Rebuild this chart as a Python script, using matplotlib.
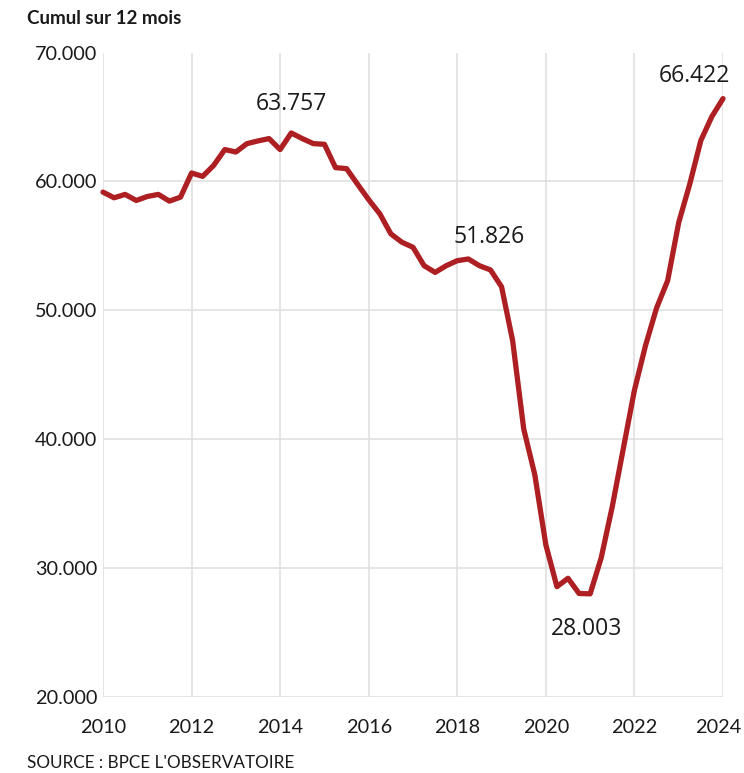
import matplotlib
matplotlib.use("Agg")
import matplotlib.pyplot as plt
import matplotlib.transforms as mtransforms
from matplotlib.ticker import FuncFormatter, FixedLocator

# Quarterly 12-month rolling totals, 2010 Q1 -> 2024
start_year = 2010
values = [
    59170, 58730, 58990, 58520, 58830, 58990, 58470, 58780,
    60650, 60390, 61245, 62470, 62280, 62930, 63140, 63320,
    62470, 63757, 63320, 62930, 62880, 61070, 60990, 59770,
    58580, 57490, 55930, 55280, 54890, 53460, 52940, 53460,
    53850, 53980, 53460, 53130, 51826, 47640, 40800, 37250,
    31800, 28560, 29210, 28030, 28003, 30800, 34780, 39290,
    43800, 47260, 50180, 52300, 56810, 59800, 63180, 65040,
    66422,
]
years = [start_year + 0.25 * i for i in range(len(values))]

x_ticks = [2010, 2012, 2014, 2016, 2018, 2020, 2022, 2024]
y_ticks = [20000, 30000, 40000, 50000, 60000, 70000]

# Highlighted points: (index in series, text offset in pixels dx, dy)
highlights = [(17, 0, 29), (36, -12, 50), (44, -4, -35), (56, -29, 23)]

title = "Cumul sur 12 mois"
source = "SOURCE : BPCE L'OBSERVATOIRE"

line_color = "#ad1f22"
grid_color = "#dedede"
text_color = "#1a1a1a"


def fr_thousands(v):
    return f"{int(round(v)):,}".replace(",", ".")


W, H, DPI = 744, 773, 100
fig = plt.figure(figsize=(W / DPI, H / DPI), dpi=DPI)
fig.patch.set_facecolor("white")

left, right, top, bottom = 103, 723, 52.5, 697
ax = fig.add_axes([left / W, 1 - bottom / H, (right - left) / W, (bottom - top) / H])

ax.plot(years, values, color=line_color, lw=3.8, solid_joinstyle="round",
        solid_capstyle="round", clip_on=False, zorder=3)

ax.set_xlim(2010, 2024)
ax.set_ylim(20000, 70000)
ax.xaxis.set_major_locator(FixedLocator(x_ticks))
ax.yaxis.set_major_locator(FixedLocator(y_ticks))
ax.yaxis.set_major_formatter(FuncFormatter(lambda v, p: fr_thousands(v)))
ax.xaxis.set_major_formatter(FuncFormatter(lambda v, p: f"{int(v)}"))

ax.grid(True, color=grid_color, lw=1.1, zorder=0)
for s in ax.spines.values():
    s.set_visible(False)
ax.tick_params(length=0, labelsize=14.3, colors=text_color)
ax.tick_params(axis="x", pad=15.5)
ax.tick_params(axis="y", pad=4)
for lab in ax.get_xticklabels() + ax.get_yticklabels():
    lab.set_family("Lato")

# keep the last year label inside the figure
fig.canvas.draw()
last = ax.get_xticklabels()[-1]
last.set_transform(last.get_transform() +
                   mtransforms.ScaledTranslation(-5 / DPI, 0, fig.dpi_scale_trans))

for idx, dx, dy in highlights:
    ax.annotate(fr_thousands(values[idx]), (years[idx], values[idx]),
                xytext=(dx * 0.72, dy * 0.72), textcoords="offset points",
                ha="center", va="center", fontsize=16.5, family="Open Sans",
                color=text_color, zorder=4)

fig.text(27 / W, 1 - 18 / H, title, ha="left", va="center", fontsize=13.5,
         fontweight="bold", family="Lato", color=text_color)
fig.text(27 / W, 1 - 763 / H, source, ha="left", va="center", fontsize=12.3,
         family="Lato", color=text_color)

fig.savefig("out.png", dpi=DPI, facecolor="white")
